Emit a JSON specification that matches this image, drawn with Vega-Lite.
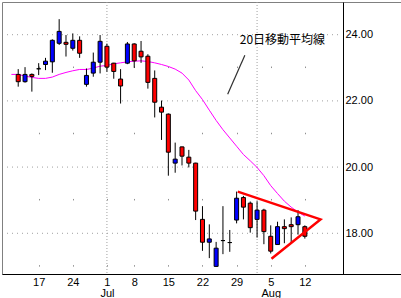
{
  "$schema": "https://vega.github.io/schema/vega-lite/v6.json",
  "width": 399,
  "height": 272,
  "autosize": {"type": "none"},
  "padding": {"left": 2, "top": 2, "right": 0, "bottom": 24},
  "background": "white",
  "config": {
    "view": {"stroke": "#808080", "strokeWidth": 1},
    "axis": {"labelFont": "Liberation Sans", "labelFontSize": 11, "labelColor": "black"}
  },
  "datasets": {
    "prices": [
      {"date": "2013-06-11", "t": -4, "open": null, "high": null, "low": null, "close": null, "ma20": 22.80},
      {"date": "2013-06-12", "t": -3, "open": 22.80, "high": 22.96, "low": 22.43, "close": 22.58, "ma20": 22.80},
      {"date": "2013-06-13", "t": -2, "open": 22.58, "high": 23.02, "low": 22.55, "close": 22.80, "ma20": 22.75},
      {"date": "2013-06-14", "t": -1, "open": 22.80, "high": 22.83, "low": 22.28, "close": 22.74, "ma20": 22.71},
      {"date": "2013-06-17", "t": 0, "open": 22.97, "high": 23.14, "low": 22.78, "close": 22.97, "ma20": 22.68},
      {"date": "2013-06-18", "t": 1, "open": 23.10, "high": 23.30, "low": 22.93, "close": 23.20, "ma20": 22.68},
      {"date": "2013-06-19", "t": 2, "open": 23.18, "high": 23.86, "low": 22.85, "close": 23.83, "ma20": 22.72},
      {"date": "2013-06-20", "t": 3, "open": 23.74, "high": 24.47, "low": 23.69, "close": 24.10, "ma20": 22.80},
      {"date": "2013-06-21", "t": 4, "open": 23.77, "high": 23.99, "low": 23.34, "close": 23.71, "ma20": 22.86},
      {"date": "2013-06-24", "t": 5, "open": 23.59, "high": 24.04, "low": 23.52, "close": 23.83, "ma20": 22.91},
      {"date": "2013-06-25", "t": 6, "open": 23.83, "high": 23.95, "low": 23.30, "close": 23.44, "ma20": 22.95},
      {"date": "2013-06-26", "t": 7, "open": 22.50, "high": 22.98, "low": 22.43, "close": 22.77, "ma20": 22.95},
      {"date": "2013-06-27", "t": 8, "open": 22.84, "high": 23.46, "low": 22.73, "close": 23.17, "ma20": 22.99},
      {"date": "2013-06-28", "t": 9, "open": 23.17, "high": 23.99, "low": 22.83, "close": 23.80, "ma20": 23.05},
      {"date": "2013-07-01", "t": 10, "open": 23.65, "high": 23.73, "low": 22.88, "close": 23.02, "ma20": 23.07},
      {"date": "2013-07-02", "t": 11, "open": 23.14, "high": 23.15, "low": 22.67, "close": 22.89, "ma20": 23.12},
      {"date": "2013-07-03", "t": 12, "open": 22.66, "high": 22.96, "low": 21.92, "close": 22.45, "ma20": 23.15},
      {"date": "2013-07-05", "t": 13, "open": 23.14, "high": 23.78, "low": 23.11, "close": 23.72, "ma20": 23.18},
      {"date": "2013-07-08", "t": 14, "open": 23.72, "high": 23.74, "low": 23.00, "close": 23.21, "ma20": 23.20},
      {"date": "2013-07-09", "t": 15, "open": 23.50, "high": 23.81, "low": 23.15, "close": 23.33, "ma20": 23.21},
      {"date": "2013-07-10", "t": 16, "open": 23.35, "high": 23.41, "low": 22.37, "close": 22.56, "ma20": 23.19},
      {"date": "2013-07-11", "t": 17, "open": 22.68, "high": 22.92, "low": 21.50, "close": 21.96, "ma20": 23.15},
      {"date": "2013-07-12", "t": 18, "open": 21.81, "high": 22.01, "low": 20.82, "close": 21.66, "ma20": 23.10},
      {"date": "2013-07-15", "t": 19, "open": 21.60, "high": 21.62, "low": 19.74, "close": 20.45, "ma20": 23.04},
      {"date": "2013-07-16", "t": 20, "open": 20.12, "high": 20.74, "low": 19.83, "close": 20.24, "ma20": 22.96},
      {"date": "2013-07-17", "t": 21, "open": 20.61, "high": 20.62, "low": 20.05, "close": 20.33, "ma20": 22.84},
      {"date": "2013-07-18", "t": 22, "open": 20.30, "high": 20.52, "low": 19.99, "close": 20.12, "ma20": 22.63},
      {"date": "2013-07-19", "t": 23, "open": 20.12, "high": 20.13, "low": 18.40, "close": 18.67, "ma20": 22.31},
      {"date": "2013-07-22", "t": 24, "open": 18.42, "high": 18.82, "low": 17.47, "close": 17.73, "ma20": 22.04},
      {"date": "2013-07-23", "t": 25, "open": 17.73, "high": 18.27, "low": 17.25, "close": 17.83, "ma20": 21.72},
      {"date": "2013-07-24", "t": 26, "open": 17.00, "high": 17.74, "low": 16.99, "close": 17.55, "ma20": 21.41},
      {"date": "2013-07-25", "t": 27, "open": 17.78, "high": 18.82, "low": 17.37, "close": 17.78, "ma20": 21.13},
      {"date": "2013-07-26", "t": 28, "open": 17.72, "high": 18.10, "low": 17.44, "close": 17.72, "ma20": 20.88},
      {"date": "2013-07-29", "t": 29, "open": 18.40, "high": 19.26, "low": 18.30, "close": 19.06, "ma20": 20.63},
      {"date": "2013-07-30", "t": 30, "open": 19.08, "high": 19.13, "low": 18.42, "close": 18.79, "ma20": 20.38},
      {"date": "2013-07-31", "t": 31, "open": 18.91, "high": 18.96, "low": 18.02, "close": 18.17, "ma20": 20.19},
      {"date": "2013-08-01", "t": 32, "open": 18.42, "high": 18.97, "low": 17.87, "close": 18.70, "ma20": 19.99},
      {"date": "2013-08-02", "t": 33, "open": 18.70, "high": 18.74, "low": 17.67, "close": 18.05, "ma20": 19.74},
      {"date": "2013-08-05", "t": 34, "open": 17.91, "high": 18.24, "low": 17.39, "close": 17.46, "ma20": 19.44},
      {"date": "2013-08-06", "t": 35, "open": 17.66, "high": 18.35, "low": 17.66, "close": 18.20, "ma20": 19.20},
      {"date": "2013-08-07", "t": 36, "open": 18.20, "high": 18.42, "low": 17.70, "close": 18.14, "ma20": 18.97},
      {"date": "2013-08-08", "t": 37, "open": 18.26, "high": 18.48, "low": 17.69, "close": 18.20, "ma20": 18.79},
      {"date": "2013-08-09", "t": 38, "open": 18.26, "high": 18.70, "low": 17.96, "close": 18.50, "ma20": 18.64},
      {"date": "2013-08-12", "t": 39, "open": 18.20, "high": 18.24, "low": 17.84, "close": 17.91, "ma20": 18.52}
    ],
    "months": [{"month": "Jul", "t": 10}, {"month": "Aug", "t": 32}],
    "levels": [{"level": 18}, {"level": 20}, {"level": 22}, {"level": 24}],
    "triangle": [
      {"vertex": 1, "tx": 29.17, "ty": 19.26},
      {"vertex": 2, "tx": 41.29, "ty": 18.42},
      {"vertex": 3, "tx": 34.11, "ty": 17.23}
    ],
    "note": [{"label": "20日移動平均線", "tx": 29.46, "ty": 23.84, "px": 27.69, "py": 22.2, "qx": 30.21, "qy": 23.38}]
  },
  "layer": [
    {
      "data": {"name": "months"},
      "mark": {"type": "rule", "color": "#a0a0a0", "strokeDash": [1, 2], "strokeWidth": 1},
      "encoding": {
        "x": {
          "field": "t", "type": "quantitative",
          "scale": {"domain": [-4.643, 52.357], "nice": false, "zero": false},
          "axis": {
            "values": [0, 5, 10, 14, 19, 24, 29, 34, 39],
            "labelExpr": "datum.value == 10 ? ['1','Jul'] : datum.value == 34 ? ['5','Aug'] : datum.value == 0 ? '17' : datum.value == 5 ? '24' : datum.value == 14 ? '8' : datum.value == 19 ? '15' : datum.value == 24 ? '22' : datum.value == 29 ? '29' : '12'",
            "title": null, "ticks": false, "domainColor": "black", "domainWidth": 1,
            "labelPadding": 2, "labelLineHeight": 11, "labelFlush": false, "labelOverlap": false,
            "grid": true, "gridColor": "#909090", "gridDash": [1.5, 64.7], "gridDashOffset": 2.15
          }
        }
      }
    },
    {
      "data": {"name": "levels"},
      "mark": {"type": "rule", "color": "#a0a0a0", "strokeDash": [1, 4], "strokeWidth": 1},
      "encoding": {
        "y": {
          "field": "level", "type": "quantitative",
          "scale": {"domain": [16.77, 24.988], "nice": false, "zero": false},
          "axis": {
            "orient": "right", "offset": -58, "values": [18, 20, 22, 24], "format": ".2f",
            "title": null, "ticks": false, "grid": false, "domainColor": "black", "domainWidth": 1,
            "labelPadding": 2, "labelFlush": false, "labelOverlap": false
          }
        },
        "x": {"datum": -4.643, "type": "quantitative", "scale": {"domain": [-4.643, 52.357], "nice": false, "zero": false}},
        "x2": {"datum": 44.07}
      }
    },
    {
      "data": {"name": "prices"},
      "mark": {"type": "line", "color": "#ff00ff", "strokeWidth": 1},
      "encoding": {
        "x": {"field": "t", "type": "quantitative", "scale": {"domain": [-4.643, 52.357], "nice": false, "zero": false}},
        "y": {"field": "ma20", "type": "quantitative", "scale": {"domain": [16.77, 24.988], "nice": false, "zero": false}}
      }
    },
    {
      "data": {"name": "prices"},
      "mark": {"type": "rule", "color": "black", "strokeWidth": 1},
      "encoding": {
        "x": {"field": "t", "type": "quantitative", "scale": {"domain": [-4.643, 52.357], "nice": false, "zero": false}},
        "y": {"field": "low", "type": "quantitative", "scale": {"domain": [16.77, 24.988], "nice": false, "zero": false}},
        "y2": {"field": "high"}
      }
    },
    {
      "data": {"name": "prices"},
      "mark": {"type": "bar", "width": 4, "stroke": "black", "strokeWidth": 1},
      "encoding": {
        "x": {"field": "t", "type": "quantitative", "scale": {"domain": [-4.643, 52.357], "nice": false, "zero": false}},
        "y": {"field": "open", "type": "quantitative", "scale": {"domain": [16.77, 24.988], "nice": false, "zero": false}},
        "y2": {"field": "close"},
        "fill": {
          "condition": [
            {"test": "datum.close > datum.open", "value": "#0000ff"},
            {"test": "datum.close < datum.open", "value": "#ff0000"}
          ],
          "value": "black"
        }
      }
    },
    {
      "data": {"name": "triangle"},
      "mark": {"type": "line", "color": "#ff0000", "strokeWidth": 2.5, "strokeJoin": "miter"},
      "encoding": {
        "x": {"field": "tx", "type": "quantitative", "scale": {"domain": [-4.643, 52.357], "nice": false, "zero": false}},
        "y": {"field": "ty", "type": "quantitative", "scale": {"domain": [16.77, 24.988], "nice": false, "zero": false}},
        "order": {"field": "vertex"}
      }
    },
    {
      "data": {"name": "note"},
      "mark": {"type": "rule", "color": "#303030", "strokeWidth": 1.2},
      "encoding": {
        "x": {"field": "px", "type": "quantitative", "scale": {"domain": [-4.643, 52.357], "nice": false, "zero": false}},
        "y": {"field": "py", "type": "quantitative", "scale": {"domain": [16.77, 24.988], "nice": false, "zero": false}},
        "x2": {"field": "qx"},
        "y2": {"field": "qy"}
      }
    },
    {
      "data": {"name": "note"},
      "mark": {"type": "text", "font": "Noto Sans CJK JP", "fontSize": 12, "color": "black", "align": "left", "baseline": "middle"},
      "encoding": {
        "x": {"field": "tx", "type": "quantitative", "scale": {"domain": [-4.643, 52.357], "nice": false, "zero": false}},
        "y": {"field": "ty", "type": "quantitative", "scale": {"domain": [16.77, 24.988], "nice": false, "zero": false}},
        "text": {"field": "label"}
      }
    }
  ]
}
